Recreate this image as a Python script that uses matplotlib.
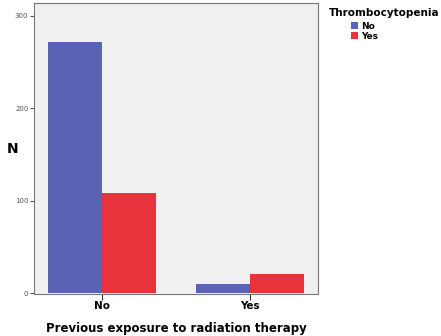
import numpy as np
import matplotlib.pyplot as plt

categories = ['No', 'Yes']
thrombo_no = [272, 10]
thrombo_yes = [108, 21]
legend_labels = ['No', 'Yes']

fig = plt.figure(figsize=(4.41, 3.36), dpi=100)
ax = fig.add_axes([0.077, 0.125, 0.644, 0.866])
ax.set_facecolor('#f0f0f0')

x = np.arange(len(categories))
w = 0.365
ax.bar(x - w / 2, thrombo_no, w, color='#5a62b4', label=legend_labels[0])
ax.bar(x + w / 2, thrombo_yes, w, color='#e8323c', label=legend_labels[1])

ax.set_xlim(-0.46, 1.46)
ax.set_ylim(-1, 314)
ax.set_xticks(x)
ax.set_xticklabels(categories, fontsize=7.5, fontweight='bold')
ax.set_yticks([0, 100, 200, 300])
ax.tick_params(axis='y', labelsize=5, length=3, color='#555555', labelcolor='#555555', pad=1)
ax.tick_params(axis='x', length=4, color='#333333', pad=1)
for s in ax.spines.values():
    s.set_color('#777777')
    s.set_linewidth(0.8)

ax.set_ylabel('N', fontsize=10, fontweight='bold', rotation=0, va='center')
ax.yaxis.set_label_coords(-0.075, 0.5)
ax.set_xlabel('Previous exposure to radiation therapy', fontsize=8.5, fontweight='bold')
ax.xaxis.set_label_coords(0.5, -0.095)

# legend title drawn separately so the entries sit indented under it
fig.text(0.745, 0.96, 'Thrombocytopenia', fontsize=7.5, fontweight='bold', va='center')
leg = fig.legend(loc='upper left', bbox_to_anchor=(0.795, 0.935), frameon=False,
                 fontsize=6.5, handlelength=0.8, handleheight=0.8, handletextpad=0.4,
                 labelspacing=0.1, borderaxespad=0, borderpad=0)
for t in leg.get_texts():
    t.set_fontweight('bold')

fig.savefig('out.png', dpi=100)
